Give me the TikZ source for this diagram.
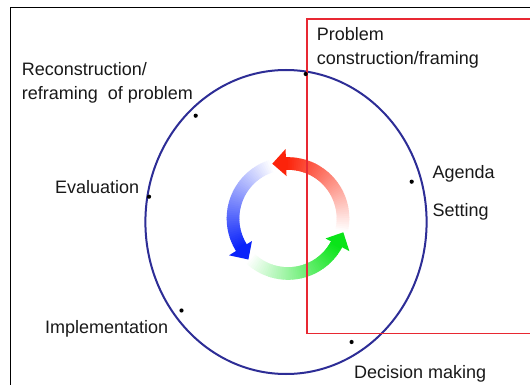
\documentclass[tikz,border=0pt]{standalone}
\usepackage{fontspec}
\setmainfont{Liberation Sans}
\definecolor{txtc}{RGB}{25,25,25}
\definecolor{ellc}{RGB}{45,45,150}
\definecolor{rectc}{RGB}{232,40,50}
\definecolor{arrR}{RGB}{252,35,10}
\definecolor{arrB}{RGB}{10,35,250}
\definecolor{arrG}{RGB}{10,228,25}
\begin{document}
\begin{tikzpicture}[x=1pt,y=1pt,
  lbl/.style={anchor=base west,inner sep=0pt,text=txtc,font=\fontsize{18}{24}\selectfont},
  dotst/.style={circle,fill=black,inner sep=0pt,minimum size=4.2pt}]
\clip (0,0) rectangle (530,-385);
\fill[white] (0,0) rectangle (530,-385);
% frame
\draw[line width=1.6pt,black] (10.5,-400) -- (10.5,-7.5) -- (560,-7.5);
% big ellipse
\draw[ellc,line width=2pt] (286,-222) ellipse [x radius=140.6, y radius=152];
% cycle arrows
\begin{scope}[shift={(288,-218.5)}]
\foreach \c/\s/\e in {arrR/-12/92, arrB/108/212, arrG/228/332} {
  \foreach \i in {0,...,49} {
    \pgfmathsetmacro\aa{\s+(\e-\s)*\i/50}
    \pgfmathsetmacro\bb{\s+(\e-\s)*(\i+1.4)/50}
    \pgfmathtruncatemacro\p{2*\i+2}
    \draw[line width=12.6pt,color=\c!\p!white] (\aa:55) arc[start angle=\aa, end angle=\bb, radius=55];
  }
  \fill[\c] (\e:42.5) -- (\e:69.5) -- ({\e+14}:57) -- cycle;
}
\end{scope}
% red rectangle
\draw[rectc,line width=1.3pt] (307,-19) rectangle (560,-333.5);
% dots
\node[dotst] (dprob) at (305.7,-74) {};
\node[dotst] (drec) at (195.7,-115.7) {};
\node[dotst] (deval) at (149,-196.7) {};
\node[dotst] (dimpl) at (181.5,-310.5) {};
\node[dotst] (ddec) at (351.6,-342) {};
\node[dotst] (dagen) at (411.7,-181.7) {};
% labels
\node[lbl] (tprob1) at (316.7,-40.7) {Problem};
\node[lbl] (tprob2) at (316.7,-65) {construction/framing};
\node[lbl] (trec1) at (21.7,-76) {Reconstruction/};
\node[lbl] (trec2) at (21.7,-100) {reframing~ of problem};
\node[lbl] (teval) at (55,-193.3) {Evaluation};
\node[lbl] (tagen) at (432.3,-178.3) {Agenda};
\node[lbl] (tset) at (432.3,-216) {Setting};
\node[lbl] (timpl) at (45,-333.5) {Implementation};
\node[lbl] (tdec) at (354,-378.5) {Decision making};
\end{tikzpicture}
\end{document}
